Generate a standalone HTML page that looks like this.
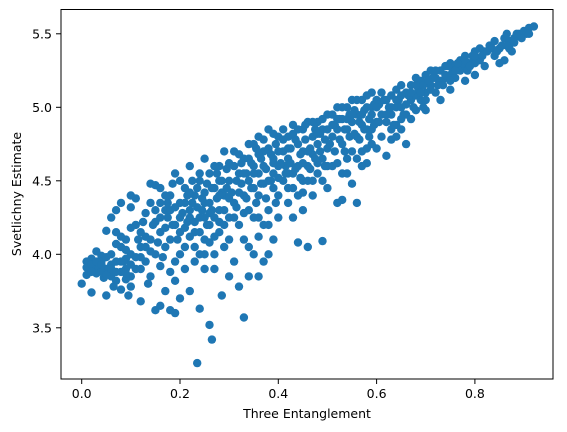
<!DOCTYPE html>
<html><head><meta charset="utf-8"><style>
html,body{margin:0;padding:0;background:#fff}
svg{display:block;font-family:"DejaVu Sans","Liberation Sans",sans-serif}
</style></head><body>
<svg id="chart" width="567" height="432" viewBox="0 0 567 432" xmlns="http://www.w3.org/2000/svg">
<rect x="0" y="0" width="567" height="432" fill="#fff"/>
<g id="points"></g>
<rect x="61" y="9.5" width="492" height="369.5" fill="none" stroke="#000" stroke-width="1"/>
<g id="xticks"></g>
<g id="yticks"></g>
<text x="307" y="418" font-size="12.5" text-anchor="middle" fill="#000">Three Entanglement</text>
<text x="0" y="0" font-size="12.5" text-anchor="middle" fill="#000" transform="translate(21,194) rotate(-90)">Svetlichny Estimate</text>
</svg>
<script>
const xTickValues=[0.0,0.2,0.4,0.6,0.8];
const xTickLabels=["0.0","0.2","0.4","0.6","0.8"];
const yTickValues=[3.5,4.0,4.5,5.0,5.5];
const yTickLabels=["3.5","4.0","4.5","5.0","5.5"];
const entanglementA=[
0.01,0.01,0.02,0.0,0.02,0.03,0.03,0.04,0.04,0.05,0.05,0.05,0.06,0.06,0.06,0.07,0.07,0.07,0.08,0.08,0.08,0.08,0.09,0.09,0.09,0.1,0.1,0.1,0.1,0.1,0.02,0.04,0.03,0.06,0.07,0.09,0.05,0.08,0.01,0.1,0.095,0.065,0.045,0.085,
0.11,0.11,0.12,0.12,0.12,0.13,0.13,0.13,0.14,0.14,0.14,0.15,0.15,0.15,0.16,0.16,0.16,0.16,0.17,0.17,0.17,0.18,0.18,0.18,0.19,0.19,0.19,0.19,0.2,0.2,0.2,0.2,0.11,0.135,0.145,0.155,0.165,0.175,0.185,0.195,0.115,0.125,0.14,0.17,0.18,0.2,0.19,0.15,
0.21,0.21,0.21,0.22,0.22,0.22,0.23,0.235,0.23,0.23,0.24,0.24,0.24,0.25,0.25,0.25,0.25,0.26,0.26,0.26,0.265,0.27,0.27,0.27,0.28,0.28,0.285,0.28,0.29,0.29,0.29,0.3,0.3,0.3,0.3,0.215,0.225,0.235,0.245,0.255,0.265,0.275,0.285,0.295,0.24,0.26,0.21,0.22,0.28,0.3,0.25,0.27,
0.31,0.31,0.31,0.32,0.32,0.32,0.33,0.33,0.33,0.33,0.34,0.34,0.34,0.34,0.35,0.35,0.35,0.36,0.36,0.36,0.36,0.37,0.37,0.37,0.38,0.38,0.38,0.39,0.39,0.39,0.4,0.4,0.4,0.4,0.315,0.325,0.335,0.345,0.355,0.365,0.375,0.385,0.395,0.35,0.37,0.39,0.32,0.38,0.36,0.34,
0.41,0.41,0.41,0.42,0.42,0.42,0.43,0.43,0.43,0.44,0.44,0.44,0.45,0.45,0.45,0.46,0.46,0.46,0.47,0.47,0.47,0.48,0.48,0.48,0.49,0.49,0.49,0.5,0.5,0.5,0.415,0.425,0.435,0.445,0.455,0.465,0.475,0.485,0.495,0.43,0.46,0.48,0.45,0.5,0.42,
0.51,0.51,0.51,0.52,0.52,0.52,0.53,0.53,0.53,0.54,0.54,0.54,0.55,0.55,0.55,0.56,0.56,0.56,0.57,0.57,0.57,0.58,0.58,0.58,0.59,0.59,0.59,0.6,0.6,0.6,0.515,0.525,0.535,0.545,0.555,0.565,0.575,0.585,0.595,0.53,0.55,0.57,0.59,
0.61,0.61,0.61,0.62,0.62,0.62,0.63,0.63,0.63,0.64,0.64,0.64,0.65,0.65,0.65,0.66,0.66,0.67,0.67,0.67,0.68,0.68,0.68,0.69,0.69,0.7,0.7,0.7,0.605,0.625,0.645,0.665,0.685,0.695,0.66,
0.71,0.71,0.72,0.72,0.73,0.73,0.73,0.74,0.74,0.75,0.75,0.75,0.76,0.76,0.77,0.77,0.78,0.78,0.78,0.79,0.8,0.8,0.8,0.715,0.735,0.755,0.775,0.795,
0.81,0.81,0.82,0.82,0.83,0.84,0.84,0.85,0.86,0.86,0.87,0.88,0.89,0.9,0.91,0.92,0.905,0.875,0.85];
const svetlichnyA=[
3.95,3.91,3.74,3.80,3.97,3.92,3.87,3.99,3.95,3.72,3.90,4.16,3.85,4.0,4.25,4.3,3.95,3.82,4.35,4.05,3.88,3.76,3.9,4.1,3.97,3.78,4.18,4.4,3.85,4.0,3.93,3.88,4.02,3.93,4.07,3.83,3.98,4.12,3.86,4.32,3.72,3.78,3.84,3.95,
3.9,4.2,4.05,3.98,3.68,4.28,3.95,4.12,4.35,3.85,4.48,4.0,3.62,4.22,3.65,4.15,4.45,3.92,4.3,4.05,3.75,4.1,4.4,3.88,3.6,4.55,4.2,3.95,4.0,4.35,3.7,4.5,4.38,3.8,4.2,4.08,3.98,4.25,4.48,4.1,4.1,4.22,4.02,4.4,3.62,4.15,3.82,4.47,
4.05,4.45,3.9,4.3,3.75,4.6,4.15,3.26,4.4,3.95,4.5,4.25,3.63,4.65,4.1,3.9,4.35,3.52,4.55,4.2,3.42,4.45,4.0,3.9,4.3,4.6,3.72,4.15,4.4,4.05,4.7,4.25,4.5,3.85,4.1,4.22,4.5,4.32,4.38,4.48,4.3,4.55,4.42,4.58,4.0,4.08,4.35,4.12,4.5,4.62,4.25,4.6,
4.7,4.35,3.95,4.55,4.2,3.78,3.57,4.65,4.4,4.1,4.75,4.5,3.85,4.3,4.6,4.25,4.0,4.8,4.55,3.85,4.4,4.7,4.2,3.95,4.85,4.5,4.3,4.65,4.45,4.1,4.8,4.6,4.4,4.25,4.5,4.62,4.55,4.62,4.72,4.65,4.58,4.68,4.75,4.45,4.48,4.55,4.42,4.0,4.12,4.05,
4.85,4.5,4.7,4.65,4.35,4.8,4.88,4.55,4.25,4.08,4.75,4.6,4.85,4.5,4.7,4.05,4.9,4.6,4.8,4.4,4.68,4.9,4.55,4.75,4.09,4.85,4.65,4.95,4.72,4.45,4.6,4.72,4.78,4.68,4.78,4.72,4.85,4.82,4.78,4.45,4.5,4.62,4.3,4.6,4.55,
4.95,4.8,4.6,5.0,4.85,4.35,4.92,4.75,4.37,5.0,4.85,4.65,5.05,4.9,4.48,4.95,4.8,4.35,5.05,4.88,4.7,5.0,4.85,4.62,5.1,4.95,4.75,5.05,4.9,4.72,4.88,4.92,4.85,4.95,4.98,4.9,4.98,4.92,5.02,4.55,4.7,4.6,4.85,
5.1,4.95,4.8,5.05,4.67,4.9,5.08,4.95,4.78,5.12,5.0,4.88,5.15,5.0,4.85,5.1,4.95,5.15,5.05,4.92,5.2,5.08,4.98,5.18,5.05,5.22,5.1,4.98,5.02,5.0,5.05,5.08,5.12,5.0,4.75,
5.25,5.15,5.2,5.1,5.25,5.18,5.05,5.28,5.2,5.3,5.22,5.12,5.28,5.2,5.32,5.25,5.35,5.28,5.18,5.3,5.38,5.3,5.22,5.2,5.15,5.25,5.3,5.35,
5.4,5.32,5.38,5.28,5.42,5.35,5.45,5.4,5.47,5.32,5.45,5.47,5.5,5.52,5.54,5.55,5.5,5.38,5.3];
const entanglementB=[
0.205,0.21,0.215,0.22,0.225,0.23,0.235,0.24,0.245,0.25,0.255,0.26,0.265,0.27,0.275,0.28,0.285,0.29,0.295,0.3,0.22,0.24,0.26,0.28,0.23,0.25,0.27,0.29,
0.305,0.31,0.315,0.32,0.325,0.33,0.335,0.34,0.345,0.35,0.355,0.36,0.365,0.37,0.375,0.38,0.385,0.39,0.395,0.4,0.33,0.36,0.38,0.4,0.31,0.35,0.37,0.39,
0.405,0.41,0.415,0.42,0.425,0.43,0.435,0.44,0.445,0.45,0.455,0.46,0.465,0.47,0.475,0.48,0.485,0.49,0.495,0.5,0.44,0.47,0.49,0.42,0.45,
0.505,0.51,0.515,0.52,0.525,0.53,0.535,0.54,0.545,0.55,0.555,0.56,0.565,0.57,0.575,0.58,0.585,0.59,0.595,0.6,0.52,0.54,0.56,0.58,
0.605,0.615,0.62,0.63,0.635,0.64,0.65,0.655,0.66,0.67,0.675,0.68,0.69,0.695,0.7,0.63,0.65,0.64,
0.705,0.72,0.725,0.74,0.745,0.76,0.765,0.78,0.785,0.8,0.71,0.75,0.79,
0.815,0.825,0.835,0.845,0.855,0.865,0.87,0.88,0.895,0.91,0.885,0.865,
0.02,0.03,0.04,0.05,0.06,0.07,0.08,0.09,0.1,0.11,0.12,0.13,0.14,0.15,0.16,0.17,0.18,0.19,0.2,0.175,0.185,0.16,0.12,0.09,0.07];
const svetlichnyB=[
4.28,4.18,4.4,4.25,4.35,4.22,4.45,4.15,4.3,4.42,4.2,4.35,4.45,4.25,4.38,4.22,4.5,4.3,4.45,4.38,4.42,4.55,4.28,4.4,4.05,4.0,4.12,4.2,
4.42,4.6,4.32,4.68,4.48,4.55,4.38,4.65,4.45,4.55,4.35,4.68,4.48,4.6,4.38,4.72,4.5,4.62,4.35,4.7,4.28,4.25,4.2,4.52,4.25,4.75,4.78,4.82,
4.62,4.78,4.55,4.72,4.62,4.82,4.58,4.85,4.52,4.62,4.88,4.7,4.58,4.9,4.65,4.82,4.7,4.92,4.6,4.85,4.4,4.5,4.5,4.45,4.42,
4.75,4.88,4.7,4.92,4.78,5.0,4.7,4.92,4.8,4.95,4.82,5.05,4.78,4.95,4.85,5.08,4.8,5.0,4.88,5.0,4.62,4.55,4.65,4.72,
4.9,5.05,4.95,5.0,4.88,5.05,5.08,4.95,5.02,5.1,5.0,5.15,5.1,5.15,5.05,4.85,4.92,4.8,
5.18,5.25,5.15,5.22,5.28,5.25,5.3,5.32,5.25,5.35,5.12,5.18,5.28,
5.35,5.38,5.4,5.38,5.42,5.42,5.4,5.44,5.47,5.5,5.5,5.5,
3.88,3.95,3.93,3.86,3.9,3.88,3.95,3.87,3.93,3.98,4.15,4.05,4.1,4.3,4.25,4.18,4.3,4.32,4.25,4.35,4.2,4.35,3.9,4.03,4.15];
const entanglement=entanglementA.concat(entanglementB);
const svetlichny=svetlichnyA.concat(svetlichnyB);

const NS='http://www.w3.org/2000/svg';
function xScale(v){return 81.7+v*(180-81.7)/0.2;}
function yScale(v){return 254.3-(v-4.0)*(254.3-107.3)/1.0;}

const pg=document.getElementById('points');
for(let i=0;i<entanglement.length;i++){
  const c=document.createElementNS(NS,'circle');
  c.setAttribute('cx',xScale(entanglement[i]).toFixed(1));
  c.setAttribute('cy',yScale(svetlichny[i]).toFixed(1));
  c.setAttribute('r','4.2');
  c.setAttribute('fill','#1f77b4');
  
  
  pg.appendChild(c);
}
const xg=document.getElementById('xticks');
xTickValues.forEach((v,i)=>{
  const x=xScale(v);
  const l=document.createElementNS(NS,'line');
  l.setAttribute('x1',x);l.setAttribute('x2',x);l.setAttribute('y1',379);l.setAttribute('y2',384);
  l.setAttribute('stroke','#000');
  
  
  xg.appendChild(l);
  const t=document.createElementNS(NS,'text');
  t.setAttribute('x',x);t.setAttribute('y',398);t.setAttribute('font-size','12.5');t.setAttribute('text-anchor','middle');
  t.textContent=xTickLabels[i];
  
  
  xg.appendChild(t);
});
const yg=document.getElementById('yticks');
yTickValues.forEach((v,i)=>{
  const y=yScale(v);
  const l=document.createElementNS(NS,'line');
  l.setAttribute('x1',56);l.setAttribute('x2',61);l.setAttribute('y1',y);l.setAttribute('y2',y);
  l.setAttribute('stroke','#000');
  
  
  yg.appendChild(l);
  const t=document.createElementNS(NS,'text');
  t.setAttribute('x',52);t.setAttribute('y',y+4.5);t.setAttribute('font-size','12.5');t.setAttribute('text-anchor','end');
  t.textContent=yTickLabels[i];
  
  
  yg.appendChild(t);
});
</script>
</body></html>
